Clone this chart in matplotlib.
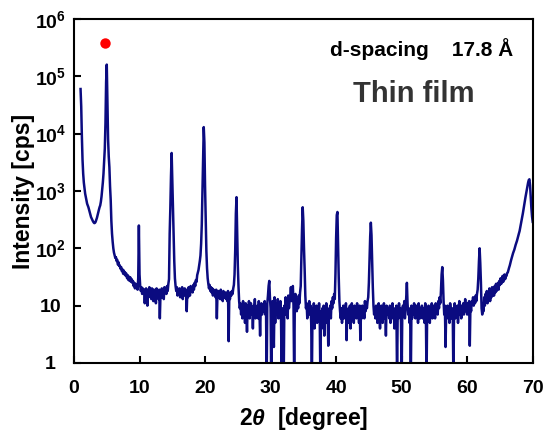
import numpy as np
import matplotlib
matplotlib.use('Agg')
import matplotlib.pyplot as plt

plt.rcParams['font.family'] = ['Liberation Sans', 'DejaVu Sans']
plt.rcParams['font.weight'] = 'bold'
plt.rcParams['mathtext.fontset'] = 'custom'
plt.rcParams['mathtext.rm'] = 'Liberation Sans:bold'
plt.rcParams['mathtext.bf'] = 'Liberation Sans:bold'
plt.rcParams['mathtext.it'] = 'Liberation Sans:italic:bold'

# XRD scan, 2theta 1.0 -> 70.0 deg, step 0.1 (one row per degree)
intensity = [
    60000, 30000, 9000, 3500, 2000, 1400, 1100, 900, 780, 680,          # 1
    600, 560, 520, 470, 420, 380, 350, 330, 310, 295,                   # 2
    283, 275, 278, 290, 315, 340, 380, 420, 470, 520,                   # 3
    560, 650, 800, 1050, 1400, 2000, 3200, 5500, 15000, 80000,          # 4
    160000, 40000, 8000, 4000, 2600, 1200, 700, 300, 180, 130,          # 5
    100, 84, 76, 68, 70, 60, 63, 52, 57, 49,                            # 6
    50, 44, 47, 40, 43, 36, 41, 35, 38, 33,                             # 7
    36, 30, 34, 28, 32, 27, 31, 26, 29, 25,                             # 8
    27, 22, 25, 20, 24, 21, 23, 19, 30, 250,                            # 9
    35, 22, 18, 21, 16, 20, 17, 19, 11, 18,                             # 10
    20, 15, 10, 19, 14, 21, 16, 18, 13, 20,                             # 11
    17, 12, 19, 15, 18, 11, 20, 14, 17, 13,                             # 12
    19, 6, 16, 14, 20, 15, 18, 13, 21, 17,                              # 13
    19, 16, 22, 18, 24, 29, 180, 500, 1800, 4600,                       # 14
    1500, 450, 170, 60, 30, 22, 18, 21, 15, 19,                         # 15
    17, 20, 14, 19, 16, 21, 13, 18, 15, 20,                             # 16
    16, 19, 8, 18, 14, 21, 17, 15, 22, 18,                              # 17
    20, 17, 23, 19, 25, 22, 28, 26, 34, 38,                             # 18
    42, 50, 60, 75, 120, 260, 900, 3500, 13000, 7000,                   # 19
    1200, 350, 90, 45, 30, 24, 20, 23, 18, 21,                          # 20
    17, 20, 15, 19, 16, 18, 14, 19, 6, 17,                              # 21
    18, 14, 17, 13, 19, 15, 16, 12, 18, 15,                             # 22
    14, 17, 13, 16, 12, 18, 2.4, 15, 13, 17,                            # 23
    15, 18, 16, 20, 23, 35, 90, 400, 780, 200,                          # 24
    50, 22, 12, 9, 11, 7, 10, 6, 12, 8,                                 # 25
    9, 5, 11, 8, 3.5, 10, 7, 12, 6, 9,                                  # 26
    11, 7, 9, 4, 10, 8, 13, 6, 9, 7,                                    # 27
    10, 6, 12, 8, 3, 9, 11, 7, 10, 8,                                   # 28
    9, 12, 7, 10, 0.5, 11, 15, 22, 27, 14,                              # 29
    9, 0.5, 8, 12, 6, 1.9, 14, 5, 9, 11,                                # 30
    7, 13, 6, 10, 8, 12, 5, 0.5, 9, 4,                                  # 31
    0.5, 10, 7, 14, 8, 11, 6, 15, 9, 12,                                # 32
    14, 21, 12, 20, 22, 10, 0.5, 12, 16, 10,                            # 33
    8, 13, 9, 15, 11, 17, 22, 70, 220, 520,                             # 34
    300, 100, 42, 15, 9, 11, 6, 10, 8, 12,                              # 35
    7, 10, 5, 0.5, 9, 6, 11, 4, 8, 7,                                   # 36
    10, 5, 9, 7, 11, 6, 0.5, 8, 4, 9,                                   # 37
    6, 10, 3, 8, 7, 11, 5, 9, 2, 8,                                     # 38
    7, 10, 6, 12, 9, 14, 11, 16, 13, 36,                                # 39
    150, 380, 430, 110, 31, 12, 8, 6, 9, 5,                             # 40
    8, 10, 6, 9, 7, 11, 2.5, 8, 5, 9,                                   # 41
    7, 10, 4, 8, 11, 6, 9, 5, 10, 7,                                    # 42
    9, 6, 11, 7, 8, 5, 10, 2.5, 8, 6,                                   # 43
    10, 7, 9, 6, 12, 8, 11, 9, 12, 14,                                  # 44
    25, 60, 160, 280, 170, 60, 21, 10, 7, 9,                            # 45
    6, 10, 8, 5, 9, 11, 7, 4, 8, 10,                                    # 46
    7, 5, 9, 11, 6, 8, 3, 10, 7, 9,                                     # 47
    8, 6, 10, 5, 9, 7, 11, 6, 8, 4,                                     # 48
    9, 7, 10, 0.5, 8, 6, 11, 7, 9, 5,                                   # 49
    0.5, 8, 10, 7, 12, 6, 9, 14, 25, 11,                                # 50
    7, 9, 5, 8, 0.5, 10, 6, 9, 7, 11,                                   # 51
    8, 6, 10, 7, 9, 5, 11, 8, 6, 9,                                     # 52
    7, 10, 6, 9, 8, 5, 11, 7, 0.5, 9,                                   # 53
    6, 10, 8, 5, 9, 7, 11, 6, 10, 8,                                    # 54
    9, 6, 11, 8, 10, 7, 12, 9, 14, 11,                                  # 55
    18, 35, 47, 28, 12, 7, 10, 1.9, 8, 6,                               # 56
    10, 7, 9, 5, 11, 8, 6, 9, 7, 0.5,                                   # 57
    8, 11, 6, 9, 7, 10, 5, 8, 12, 7,                                    # 58
    9, 6, 10, 8, 11, 7, 9, 13, 8, 10,                                   # 59
    7, 11, 9, 12, 2, 10, 8, 12, 11, 14,                                 # 60
    10, 13, 11, 15, 12, 16, 19, 30, 60, 100,                            # 61
    55, 25, 9, 7, 11, 8, 14, 10, 16, 12,                                # 62
    18, 11, 15, 13, 20, 12, 17, 14, 21, 15,                             # 63
    19, 15, 22, 17, 24, 18, 21, 25, 19, 27,                             # 64
    23, 30, 24, 28, 33, 26, 31, 35, 29, 34,                             # 65
    33, 37, 38, 42, 46, 50, 56, 62, 68, 75,                             # 66
    82, 88, 95, 105, 115, 125, 135, 150, 165, 182,                      # 67
    200, 230, 260, 300, 350, 407, 480, 560, 650, 780,                   # 68
    900, 1050, 1200, 1400, 1550, 1600, 1250, 800, 500, 360,             # 69
    290,                                                                # 70
]
two_theta = np.linspace(1.0, 70.0, len(intensity))

marker_x = [4.7]
marker_y = [3.8e5]

ytick_vals = [1, 10, 1e2, 1e3, 1e4, 1e5, 1e6]
ytick_labels = ['1', '10', r'$10^2$', r'$10^3$', r'$10^4$', r'$10^5$', r'$10^6$']
xtick_vals = [0, 10, 20, 30, 40, 50, 60, 70]

fig = plt.figure(figsize=(5.49, 4.33), dpi=100)
ax = fig.add_axes([0.1348, 0.1617, 0.8355, 0.7945])

ax.plot(two_theta, intensity, color='#0b0b80', lw=1.8)
ax.plot(marker_x, marker_y, 'o', color='#ff0000', ms=7.5, mec='none')

ax.set_yscale('log')
ax.set_xlim(0, 70)
ax.set_ylim(1, 1e6)
ax.set_yticks(ytick_vals)
ax.set_yticklabels(ytick_labels, ha='center')
ax.yaxis.set_minor_locator(matplotlib.ticker.NullLocator())
ax.set_xticks(xtick_vals)
ax.tick_params(direction='in', length=5, width=1.5, labelsize=14)
ax.tick_params(axis='x', pad=12)
ax.tick_params(axis='y', pad=17)

for s in ax.spines.values():
    s.set_linewidth(1.5)

ax.set_xlabel(r'2$\theta$  [degree]', fontsize=16.5, fontweight='bold', labelpad=6)
ax.set_ylabel('Intensity [cps]', fontsize=16.5, fontweight='bold', labelpad=0)

ax.text(0.558, 0.892, 'd-spacing    17.8 Å', transform=ax.transAxes,
        fontsize=15, fontweight='bold', va='baseline', ha='left')
ax.text(0.609, 0.760, 'Thin film', transform=ax.transAxes,
        fontsize=21, fontweight='bold', va='baseline', ha='left', color='#333333')

fig.savefig('out.png', dpi=100)
